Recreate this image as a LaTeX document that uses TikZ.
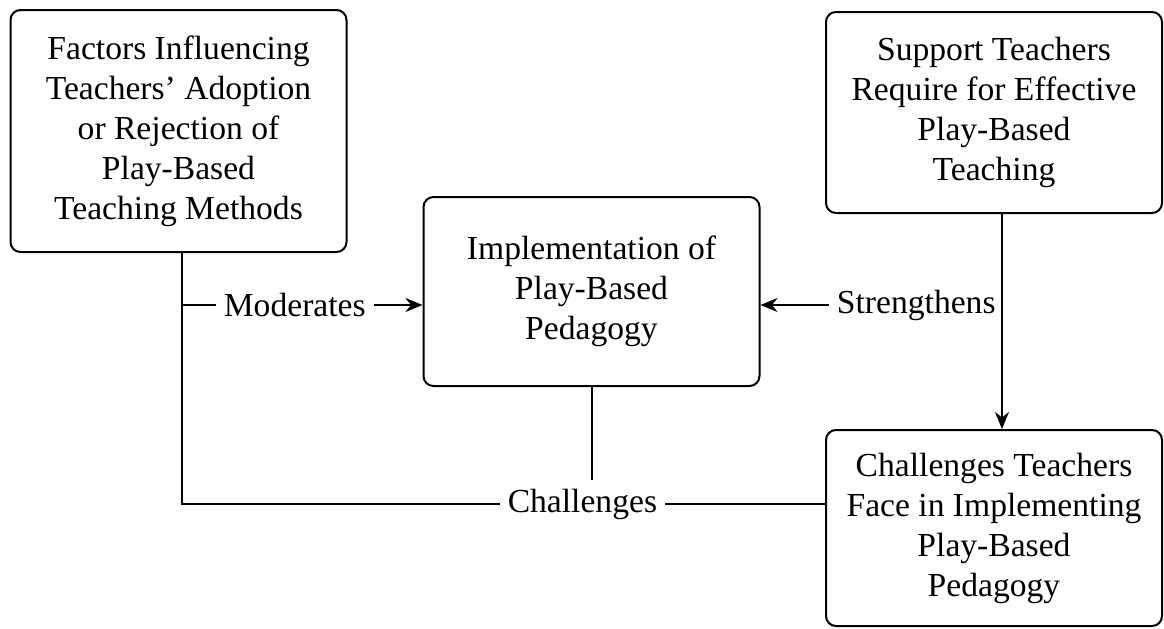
\documentclass[tikz,border=0pt]{standalone}
\usepackage{fontspec}
\setmainfont{Liberation Serif}
\usetikzlibrary{arrows.meta}
\tikzstyle{block} = [rectangle, rounded corners=5pt, minimum width=168pt, align=center, draw=black, line width=1pt, font=\fontsize{16.8}{20}\selectfont]
\tikzstyle{tag} = [fill=white, inner sep=4pt, font=\fontsize{16.8}{20}\selectfont]
\tikzstyle{link} = [line width=1pt]
\tikzstyle{arrow} = [line width=1pt,->,>={Stealth[length=8.5pt,width=7pt]}]

\begin{document}
\begin{tikzpicture}[x=0.5pt, y=-0.5pt]

    \useasboundingbox (0,0) rectangle (1164,628);

    \node (factors)   [block, minimum height=121pt]  at (178.5,131) {Factors Influencing\\Teachers’ Adoption\\or Rejection of\\Play-Based\\Teaching Methods};
    \node (impl)      [block, minimum height=94.5pt] at (591.5,291.5) {Implementation of\\Play-Based\\Pedagogy};
    \node (support)   [block, minimum height=100.5pt] at (994,112.5) {Support Teachers\\Require for Effective\\Play-Based\\Teaching};
    \node (challenge) [block, minimum height=98pt]   at (994,528) {Challenges Teachers\\Face in Implementing\\Play-Based\\Pedagogy};

    \coordinate (fdown) at ([xshift=1.5pt]factors.south);
    \coordinate (fmod)  at (fdown |- 0,305);
    \coordinate (fbend) at (fdown |- 0,504);
    \coordinate (sdown) at ([xshift=4pt]support.south);
    \coordinate (smod)  at (sdown |- 0,305);

    \draw [link]  (fdown) -- (fbend) -- node[tag, pos=0.623] (chal) {Challenges} (fbend -| challenge.west);
    \draw [link]  (impl.south) -- (impl.south |- chal.north);
    \draw [arrow] (fmod)  -- node[tag, pos=0.47] {Moderates} (fmod -| impl.west);
    \draw [arrow] (smod)  -- node[tag, pos=0.355] {Strengthens} (smod -| impl.east);
    \draw [arrow] (sdown) -- (sdown |- challenge.north);

\end{tikzpicture}
\end{document}
